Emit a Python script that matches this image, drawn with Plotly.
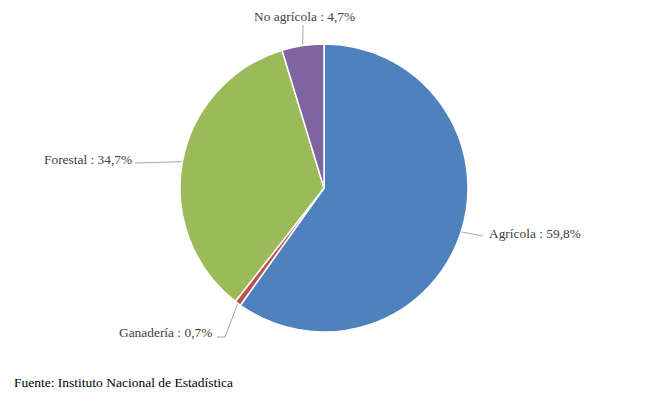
import math
import plotly.graph_objects as go

categories = ["Agrícola", "Ganadería", "Forestal", "No agrícola"]
values = [59.8, 0.7, 34.7, 4.7]
colors = ["#4F81BD", "#C0504D", "#9BBB59", "#8064A2"]
source_text = "Fuente: Instituto Nacional de Estadística"

W, H = 652, 397
OFF = 8  # page body margin offset compensation
CX, CY, R = 324 - OFF, 188 - OFF, 144

label_pos = {
    "Agrícola": dict(x=487, y=233, anchor="left", elbow=[(483, 236)]),
    "Ganadería": dict(x=214, y=332, anchor="right", elbow=[(225, 337), (217, 337)]),
    "Forestal": dict(x=134, y=159, anchor="right", elbow=[(135, 163)]),
    "No agrícola": dict(x=304, y=16, anchor="center", elbow=[(303, 25)]),
}

FONT = "Liberation Serif"

fig = go.Figure()
fig.add_trace(go.Pie(
    labels=categories, values=values, sort=False, direction="clockwise",
    rotation=0, textinfo="none", hoverinfo="label+percent",
    marker=dict(colors=colors, line=dict(color="white", width=1.5)),
    domain=dict(x=[(CX - R) / W, (CX + R) / W], y=[1 - (CY + R) / H, 1 - (CY - R) / H]),
    showlegend=False,
))

total = sum(values)
cum = 0.0
annotations = []
for cat, v in zip(categories, values):
    mid = (cum + v / 2) / total * 2 * math.pi
    cum += v
    sx = CX + R * math.sin(mid)
    sy = CY - R * math.cos(mid)
    lp = label_pos[cat]
    xs = [sx] + [p[0] - OFF for p in lp["elbow"]]
    ys = [sy] + [p[1] - OFF for p in lp["elbow"]]
    fig.add_trace(go.Scatter(x=xs, y=ys, mode="lines", line=dict(color="#A6A6A6", width=1),
                             hoverinfo="skip", showlegend=False))
    txt = f"{cat} : {v:.1f}%".replace(".", ",")
    annotations.append(dict(x=lp["x"] - OFF, y=lp["y"] - OFF, xref="x", yref="y", text=txt,
                            showarrow=False, xanchor=lp["anchor"], yanchor="middle",
                            font=dict(family=FONT, size=13.4, color="#404040")))

annotations.append(dict(x=12 - OFF, y=382 - OFF, xref="x", yref="y", text=source_text, showarrow=False,
                        xanchor="left", yanchor="middle",
                        font=dict(family=FONT, size=13.5, color="#000000")))

fig.update_layout(
    width=W, height=H, margin=dict(l=0, r=0, t=0, b=0),
    font=dict(family=FONT),
    paper_bgcolor="white", plot_bgcolor="rgba(0,0,0,0)",
    xaxis=dict(range=[0, W], visible=False, fixedrange=True),
    yaxis=dict(range=[H, 0], visible=False, fixedrange=True),
    annotations=annotations,
)
fig.write_html("out.html")
